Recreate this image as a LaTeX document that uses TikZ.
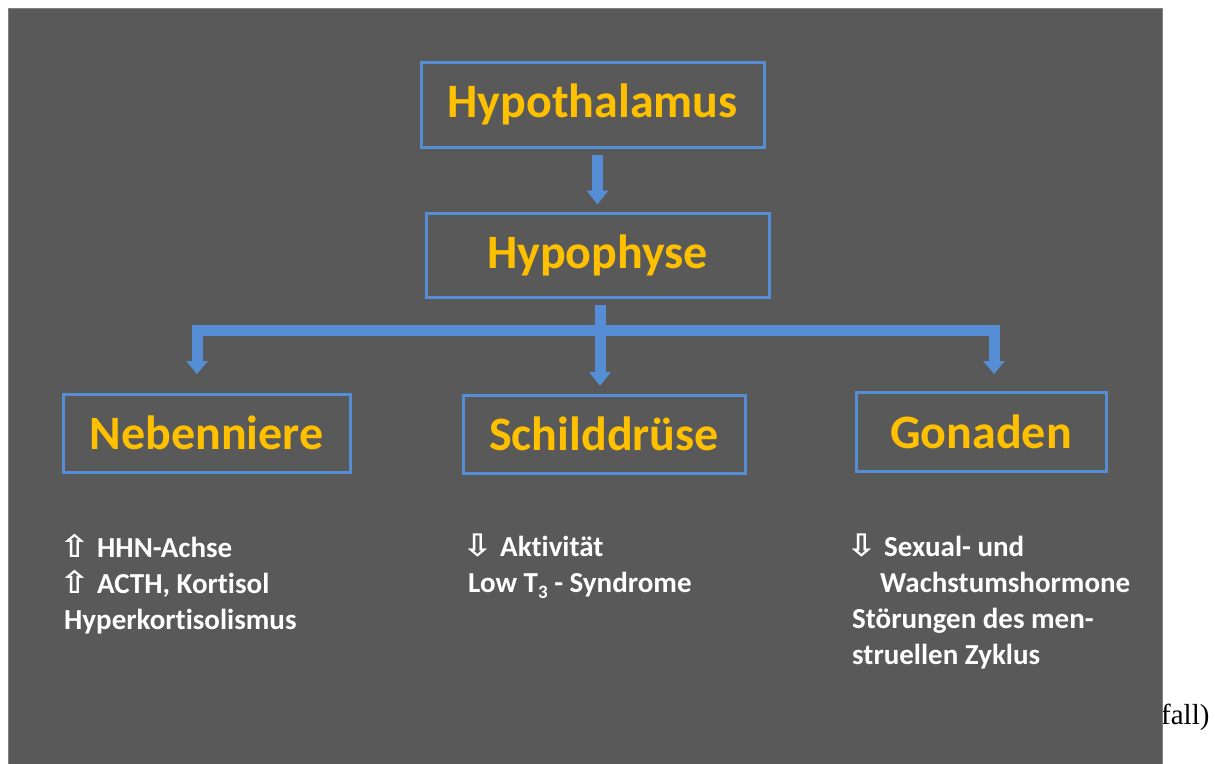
\documentclass[tikz,border=0pt]{standalone}
\usepackage{fontspec}
\setmainfont{Carlito}[Ligatures=NoCommon]
\newfontfamily\dejavu{DejaVu Sans}
\newfontfamily\tnr{Liberation Serif}
\usetikzlibrary{arrows.meta}
\definecolor{bgray}{RGB}{89,89,89}
\definecolor{bborder}{RGB}{128,128,128}
\definecolor{boxblue}{RGB}{85,142,213}
\definecolor{ylw}{RGB}{255,192,0}
\tikzset{
  organ/.style={draw=boxblue, line width=3pt, inner sep=0pt, text=ylw,
    font=\bfseries\fontsize{48}{48}\selectfont},
  infoline/.style={anchor=base west, inner sep=0pt, text=white,
    font=\bfseries\fontsize{29}{34}\selectfont},
  conn/.style={draw=boxblue, line width=11pt},
  tip/.style={-{Triangle[width=21pt,length=14pt]}},
}
\newcommand{\arrowbox}[1]{\makebox[32pt][l]{\hspace*{-6pt}\scalebox{1.6}[1.35]{\dejavu\bfseries\fontsize{23}{23}\selectfont #1}}}
\begin{document}
\begin{tikzpicture}[x=1pt,y=-1pt]
\useasboundingbox (0,0) rectangle (1215,763);
\fill[white] (0,0) rectangle (1215,763);
\node[anchor=base west, inner sep=0pt, font=\tnr\fontsize{29}{29}\selectfont] (fall) at (1161,724) {fall)};
\fill[bgray] (8,8) rectangle (1162,765);
\draw[bborder, line width=1pt] (8,765) -- (8,8) -- (1162,8) -- (1162,765);

\node[organ, minimum width=343pt, minimum height=85pt] (hyp) at (592.5,104.5) {Hypothalamus};
\node[organ, minimum width=343pt, minimum height=84pt] (hypo) at (597.5,255) {Hypophyse};
\node[organ, minimum width=287pt, minimum height=78pt] (neb) at (206.5,433) {Nebenniere};
\node[organ, minimum width=282pt, minimum height=78pt] (schild) at (604,434) {Schilddrüse};
\node[organ, minimum width=250pt, minimum height=79pt] (gon) at (981,431.5) {Gonaden};

\draw[conn, tip] ([xshift=5pt,yshift=-6pt]hyp.south) -- ([yshift=7pt]hypo.north);

\coordinate (top) at (600,305);
\coordinate (j) at (600,330.5);
\coordinate (tl) at (197,374);
\coordinate (tr) at (994,374);
\coordinate (tc) at (600,386);
\draw[conn, {Triangle[width=21pt,length=13pt]}-{Triangle[width=21pt,length=13pt]}] (tl) |- (j) -| (tr);
\draw[conn, tip] (top) -- (tc);

\node[infoline] (l1) at (65,557) {\arrowbox{⇧}HHN-Achse};
\node[infoline] (l2) at (65,593) {\arrowbox{⇧}ACTH, Kortisol};
\node[infoline] (l3) at (64,629) {Hyperkortisolismus};

\node[infoline] (m1) at (468,556) {\arrowbox{⇩}Aktivität};
\node[infoline] (m2) at (468,592) {Low T\raisebox{-0.22em}{\fontsize{19}{19}\selectfont 3} - Syndrome};

\node[infoline] (r1) at (852,556) {\arrowbox{⇩}Sexual- und};
\node[infoline] (r2) at (880,592) {Wachstumshormone};
\node[infoline] (r3) at (852,628) {Störungen des men-};
\node[infoline] (r4) at (852,664) {struellen Zyklus};
\end{tikzpicture}
\end{document}
